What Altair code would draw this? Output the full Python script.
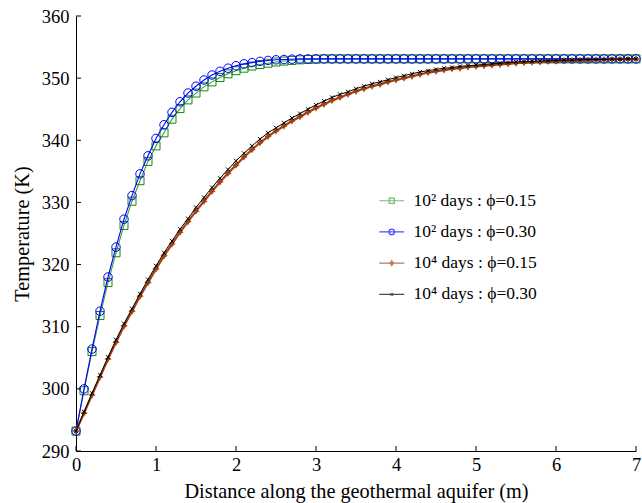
import altair as alt
import pandas as pd

x_vals = [round(i * 0.1, 1) for i in range(71)]

green_015_1e2 = [293.2, 299.7, 306.0, 311.8, 317.1, 321.9, 326.3, 330.2, 333.5, 336.6,
                 339.1, 341.2, 343.4, 345.1, 346.5, 347.6, 348.6, 349.4, 350.1, 350.7,
                 351.2, 351.6, 351.95, 352.2, 352.4, 352.6, 352.75, 352.85, 352.95, 353.0,
                 353.05] + [353.1] * 40

blue_030_1e2 = [293.2, 300.0, 306.4, 312.5, 318.0, 322.8, 327.3, 331.1, 334.6, 337.5,
                340.3, 342.5, 344.5, 346.2, 347.6, 348.7, 349.7, 350.5, 351.1, 351.6,
                352.0, 352.3, 352.5, 352.7, 352.85, 352.95, 353.0, 353.05] + [353.1] * 43

brown_015_1e4 = [293.2, 296.1, 299.0, 301.9, 304.8, 307.5, 310.1, 312.5, 314.9, 317.1,
                 319.3, 321.4, 323.3, 325.2, 326.9, 328.6, 330.2, 331.8, 333.3, 334.7,
                 336.0, 337.3, 338.5, 339.6, 340.6, 341.5, 342.3, 343.1, 343.8, 344.5,
                 345.2, 345.8, 346.4, 346.9, 347.4, 347.9, 348.3, 348.7, 349.0, 349.4,
                 349.7, 350.0, 350.3, 350.6, 350.9, 351.1, 351.3, 351.5, 351.6, 351.8,
                 351.9, 352.0, 352.1, 352.2, 352.3, 352.4, 352.5, 352.55, 352.6, 352.7,
                 352.75, 352.8, 352.85, 352.9, 352.9, 352.95, 353.0, 353.0, 353.05, 353.05,
                 353.1]

black_030_1e4 = [293.2, 296.3, 299.3, 302.2, 305.1, 307.9, 310.5, 312.9, 315.3, 317.6,
                 319.8, 321.9, 323.8, 325.7, 327.4, 329.2, 330.8, 332.4, 333.9, 335.3,
                 336.7, 337.9, 339.1, 340.2, 341.2, 342.0, 342.8, 343.6, 344.3, 345.0,
                 345.7, 346.3, 346.9, 347.4, 347.8, 348.3, 348.7, 349.1, 349.4, 349.75,
                 350.1, 350.4, 350.7, 351.0, 351.2, 351.4, 351.6, 351.7, 351.9, 352.0,
                 352.1, 352.2, 352.3, 352.4, 352.5, 352.6, 352.65, 352.7, 352.75, 352.8,
                 352.85, 352.9, 352.9, 352.95, 353.0, 353.0, 353.0, 353.05, 353.05, 353.1,
                 353.1]

series_names = ["10² days : ϕ=0.15", "10² days : ϕ=0.30",
                "10⁴ days : ϕ=0.15", "10⁴ days : ϕ=0.30"]
series_values = [green_015_1e2, blue_030_1e2, brown_015_1e4, black_030_1e4]

x_ticks = [0, 1, 2, 3, 4, 5, 6, 7]
y_ticks = [290, 300, 310, 320, 330, 340, 350, 360]

line_colors = ["#3d9e3d", "#0000ff", "#a3410f", "#000000"]
marker_colors = ["#118811", "#0000ff", "#a3410f", "#000000"]
line_widths = [1.1, 1.1, 2.2, 1.0]

star = "M0,-1L0.35,-0.35L1,0L0.35,0.35L0,1L-0.35,0.35L-1,0L-0.35,-0.35Z"
xcross = "M-1,-1L1,1M-1,1L1,-1"
marker_shapes = ["square", "circle", star, xcross]
marker_sizes = [64, 72, 55, 16]
marker_filled = [False, False, True, False]

# legend symbols: line segment + marker, in path units (scaled by sqrt(size)/2)
leg_line = "M-2.5,0L2.5,0"
leg_shapes = [
    leg_line + "M-0.52,-0.52L0.52,-0.52L0.52,0.52L-0.52,0.52Z",
    leg_line + "M0.55,0A0.55,0.55 0 1,1 -0.55,0A0.55,0.55 0 1,1 0.55,0",
    leg_line + "M0,-0.5L0.18,-0.18L0.5,0L0.18,0.18L0,0.5L-0.18,0.18L-0.5,0L-0.18,-0.18Z",
    leg_line + "M-0.25,-0.25L0.25,0.25M-0.25,0.25L0.25,-0.25",
]
leg_fills = ["transparent", "transparent", "#a3410f", "transparent"]

rows = []
for name, vals in zip(series_names, series_values):
    for xv, yv in zip(x_vals, vals):
        rows.append({"x": xv, "T": yv, "series": name})
df = pd.DataFrame(rows)

FONT = "Liberation Serif"
W, H = 560, 435

xscale = alt.Scale(domain=[0, 7], nice=False, zero=False)
yscale = alt.Scale(domain=[290, 360], nice=False, zero=False)

xaxis = alt.Axis(values=x_ticks, tickSize=0, labelPadding=4, grid=False, format="d",
                 labelFlush=False, labelOverlap=False,
                 title="Distance along the geothermal aquifer (m)", titlePadding=8,
                 domainColor="black", labelColor="black", titleColor="black",
                 labelFontSize=18.5, titleFontSize=20.3, labelFont=FONT, titleFont=FONT,
                 titleFontWeight="normal")
yaxis = alt.Axis(values=y_ticks, tickSize=0, labelPadding=7, grid=False, format="d",
                 labelFlush=False, labelOverlap=False,
                 title="Temperature (K)", titlePadding=9,
                 domainColor="black", labelColor="black", titleColor="black",
                 labelFontSize=18.5, titleFontSize=20.3, labelFont=FONT, titleFont=FONT,
                 titleFontWeight="normal")

base = alt.Chart(df)

layers = []
# axes carrier (invisible)
layers.append(base.mark_point(opacity=0).encode(
    x=alt.X("x:Q", scale=xscale, axis=xaxis),
    y=alt.Y("T:Q", scale=yscale, axis=yaxis)))

for i, name in enumerate(series_names):
    sub = base.transform_filter(alt.datum.series == name)
    layers.append(sub.mark_line(color=line_colors[i], strokeWidth=line_widths[i]).encode(
        x=alt.X("x:Q", scale=xscale), y=alt.Y("T:Q", scale=yscale)))
    layers.append(sub.mark_point(shape=marker_shapes[i], size=marker_sizes[i],
                                 filled=marker_filled[i], color=marker_colors[i],
                                 strokeWidth=1.0, opacity=1).encode(
        x=alt.X("x:Q", scale=xscale), y=alt.Y("T:Q", scale=yscale)))

# legend layer (no visible marks)
legend = alt.Legend(title=None, orient="none", legendX=307, legendY=176,
                    labelFont=FONT, labelFontSize=17.5, labelColor="black",
                    labelOffset=13, rowPadding=12.2, symbolStrokeWidth=1.2,
                    labelLimit=300)
layers.append(base.transform_filter(alt.datum.x < -1).mark_point(size=240).encode(
    x=alt.X("x:Q", scale=xscale), y=alt.Y("T:Q", scale=yscale),
    stroke=alt.Stroke("series:N", scale=alt.Scale(domain=series_names, range=line_colors),
                      legend=legend),
    fill=alt.Fill("series:N", scale=alt.Scale(domain=series_names, range=leg_fills),
                  legend=legend),
    shape=alt.Shape("series:N", scale=alt.Scale(domain=series_names, range=leg_shapes),
                    legend=legend)))

# inward ticks
tx = pd.DataFrame({"t": x_ticks})
ty = pd.DataFrame({"t": y_ticks})
layers.append(alt.Chart(tx).mark_rule(color="black", strokeWidth=1).encode(
    x=alt.X("t:Q", scale=xscale), y=alt.value(H), y2=alt.value(H - 5)))
layers.append(alt.Chart(ty).mark_rule(color="black", strokeWidth=1).encode(
    y=alt.Y("t:Q", scale=yscale), x=alt.value(0), x2=alt.value(5)))

chart = alt.layer(*layers).properties(
    width=W, height=H,
    autosize=alt.AutoSizeParams(type="none"),
    padding={"left": 76, "top": 16, "right": 6, "bottom": 52},
    background="white",
).configure_view(stroke=None).configure_axis(domainWidth=1)

chart.save("out.html", embed_options={"renderer": "svg", "actions": False})
